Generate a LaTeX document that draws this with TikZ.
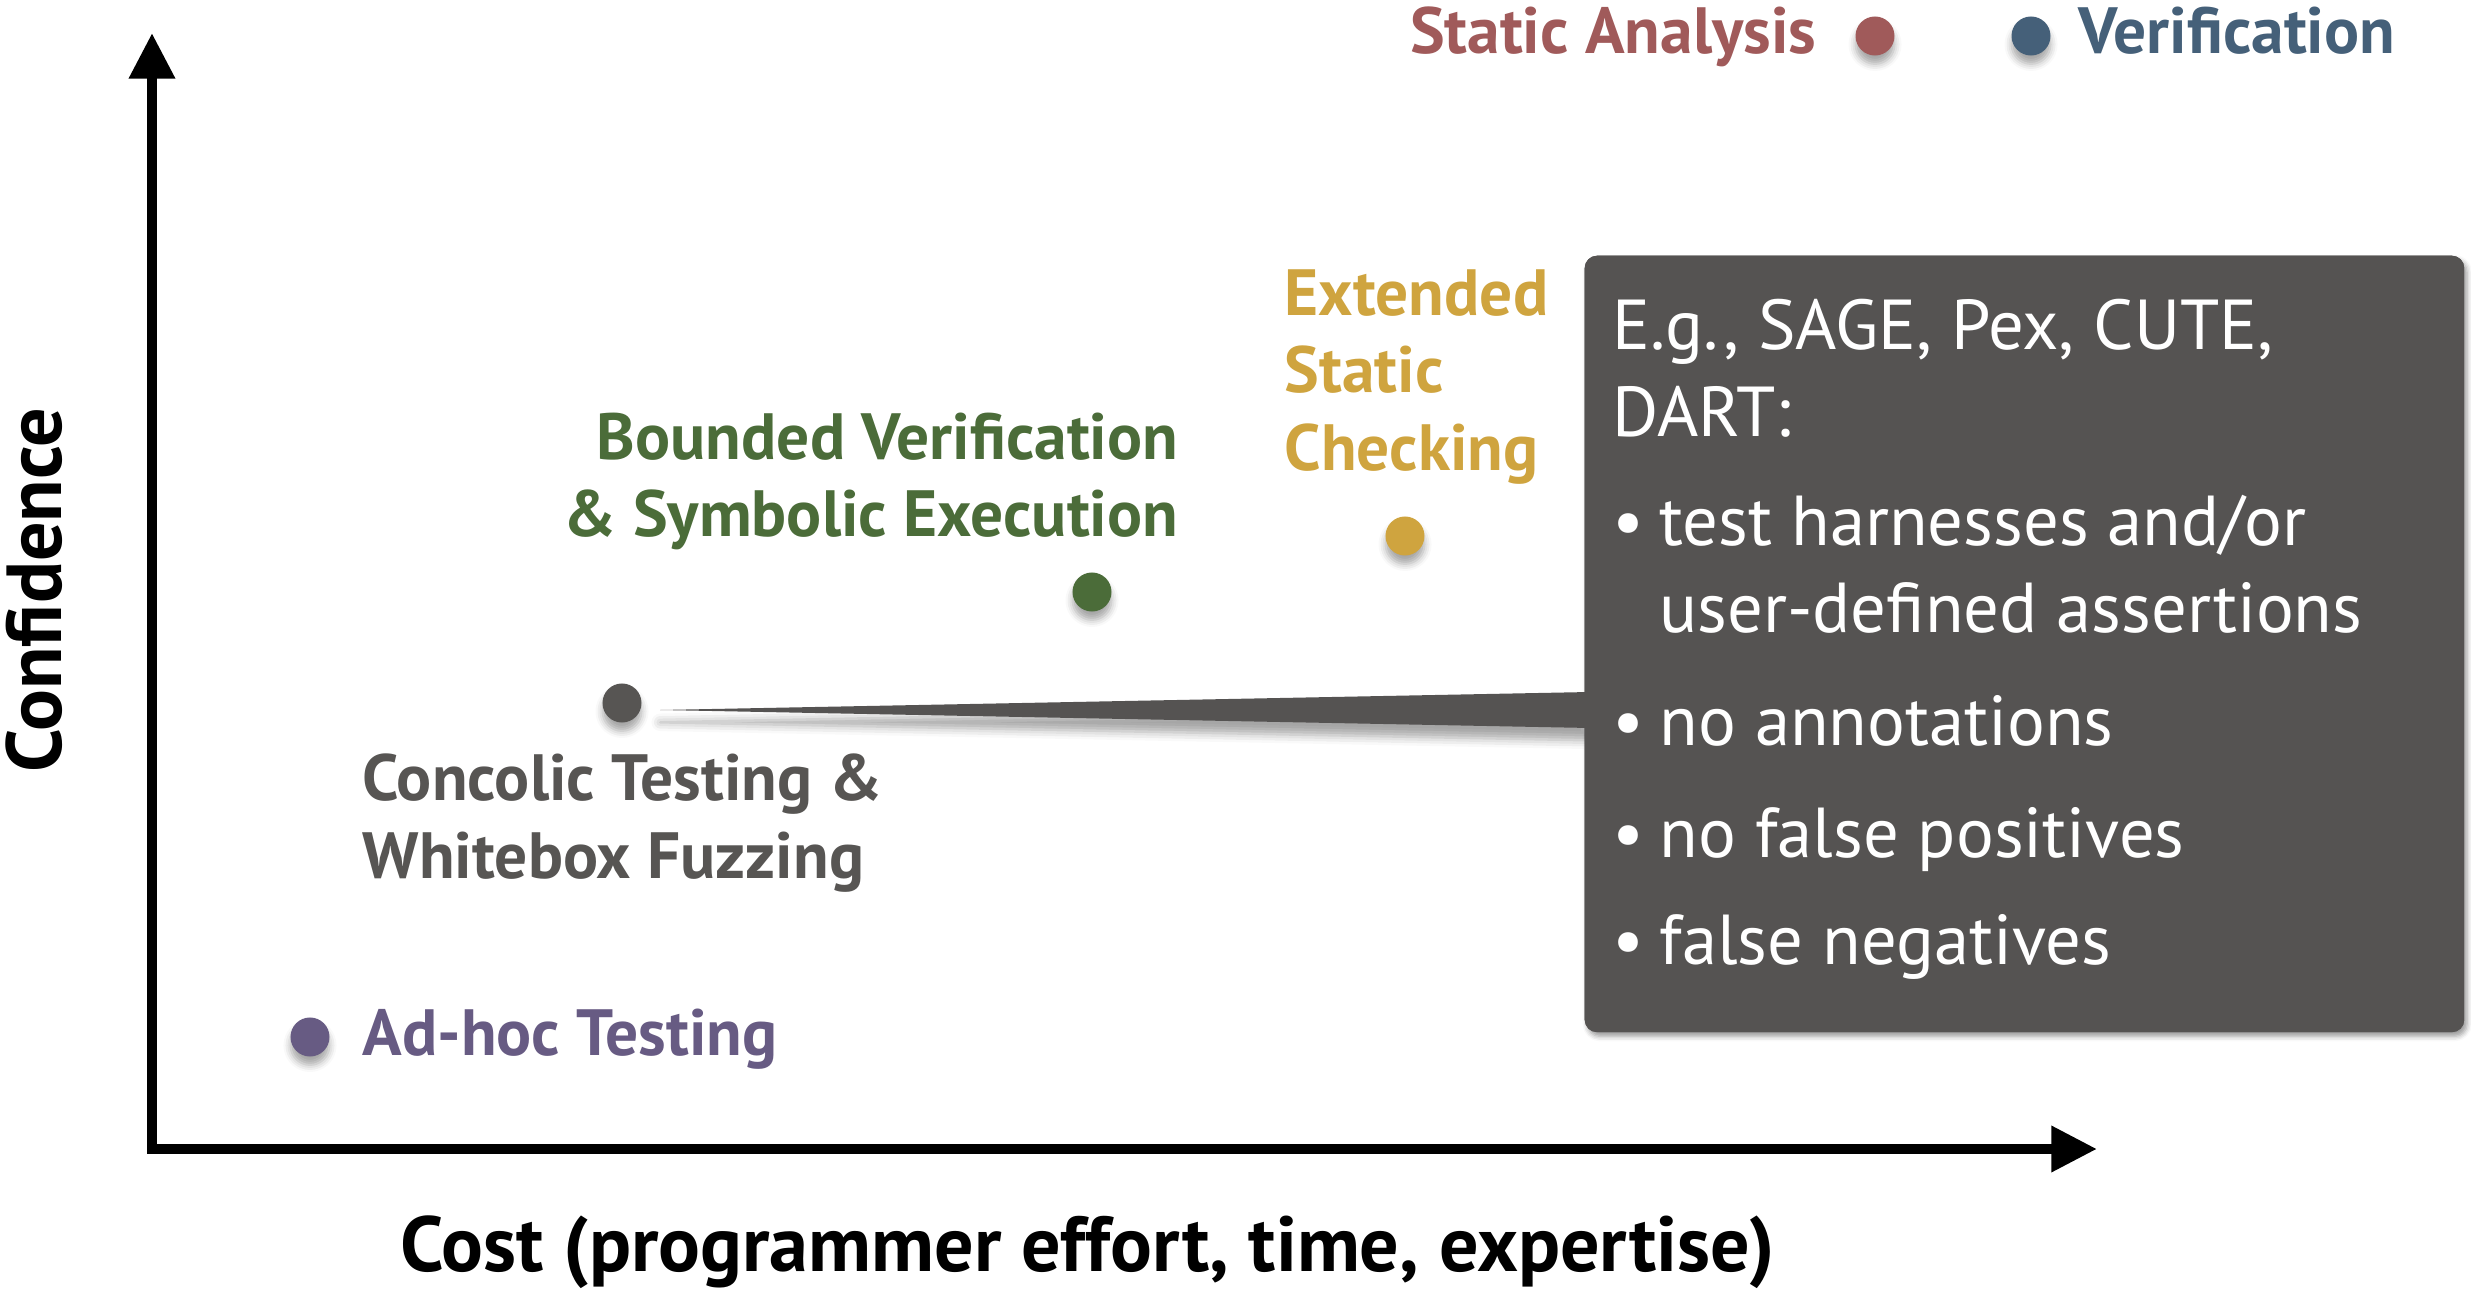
\documentclass[tikz,border=0pt]{standalone}
\usepackage{fontspec}
\setmainfont{PT Sans}
\usetikzlibrary{arrows.meta,calc,shadows.blur}

\definecolor{saRed}{HTML}{A05A5A}
\definecolor{vBlue}{HTML}{456079}
\definecolor{escGold}{HTML}{CFA43F}
\definecolor{bvGreen}{HTML}{4B6C39}
\definecolor{ctGray}{HTML}{575553}
\definecolor{ahPurple}{HTML}{675B83}
\definecolor{calloutGray}{HTML}{555352}

\tikzset{
  softshadow/.style={blur shadow={shadow xshift=0pt, shadow yshift=-2.4pt,
      shadow blur radius=2pt, shadow opacity=35}},
  dot/.style={circle, minimum size=0.39cm, inner sep=0pt, softshadow},
  lab/.style={inner sep=0pt, font=\fontsize{18.6pt}{22pt}\selectfont\bfseries},
  axislab/.style={inner sep=0pt, font=\fontsize{22.2pt}{27pt}\selectfont\bfseries},
  calltext/.style={inner sep=0pt, text=white, anchor=base west,
      font=\fontsize{20.1pt}{24pt}\selectfont},
  callbox/.style={fill=calloutGray, rounded corners=3.5pt, inner sep=0pt,
      anchor=north west, minimum width=8.79cm, minimum height=7.76cm,
      blur shadow={shadow xshift=0.8pt, shadow yshift=-1.2pt,
      shadow blur radius=1.4pt, shadow opacity=40}},
  axis/.style={line width=2.9pt, line join=miter,
      {Triangle[length=13pt,width=12.5pt]}-{Triangle[length=13pt,width=12.5pt]}}
}

\begin{document}
\begin{tikzpicture}[x=0.01cm, y=-0.01cm]
\useasboundingbox (0,0) rectangle (2471,1291);

% axes
\coordinate (ytip) at (152,33);
\coordinate (origin) at (152,1149);
\coordinate (xtip) at (2097,1149);
\draw[axis] (ytip) -- (origin) -- (xtip);

\node[axislab, rotate=90, anchor=base] (conf) at (61,590) {Confidence};
\node[axislab, anchor=base] (cost) at (1088,1271) {Cost (programmer effort, time, expertise)};

% legend
\node[dot, fill=saRed] (saDot) at (1875,36) {};
\node[dot, fill=vBlue] (vDot) at (2031,36) {};
\node[lab, text=saRed, anchor=base east] (saLab) at (1817,54) {Static Analysis};
\node[lab, text=vBlue, anchor=base west] (vLab) at (2078,54) {Verification};

% techniques
\node[dot, fill=escGold] (escDot) at (1405,536) {};
\node[lab, text=escGold, anchor=base west] (esc1) at (1284,316) {Extended};
\node[lab, text=escGold, anchor=base west] (esc2) at (1284,393) {Static};
\node[lab, text=escGold, anchor=base west] (esc3) at (1284,471) {Checking};

\node[dot, fill=bvGreen] (bvDot) at (1092,592) {};
\node[lab, text=bvGreen, anchor=base east] (bv1) at (1179,460) {Bounded Verification};
\node[lab, text=bvGreen, anchor=base east] (bv2) at (1179,537) {\& Symbolic Execution};

\node[dot, fill=ctGray] (ctDot) at (622,703) {};
\node[lab, text=ctGray, anchor=base west] (ct1) at (362,800) {Concolic Testing \&};
\node[lab, text=ctGray, anchor=base west] (ct2) at (362,878) {Whitebox Fuzzing};

\node[dot, fill=ahPurple] (ahDot) at (310,1037) {};
\node[lab, text=ahPurple, anchor=base west] (ahLab) at (362,1055) {Ad-hoc Testing};

% callout
\node[callbox] (box) at (1584,255) {};
\coordinate (tip) at ($(ctDot.east)+(18,7)$);
\coordinate (wTop) at ($(box.north west)+(6,437)$);
\coordinate (wBot) at ($(box.north west)+(6,473)$);
\fill[calloutGray, blur shadow={shadow xshift=0pt, shadow yshift=-3.5pt,
      shadow blur radius=2.5pt, shadow opacity=35}] (wTop) -- (tip) -- (wBot) -- cycle;
\node[fill=calloutGray, rounded corners=3.5pt, inner sep=0pt, anchor=north west,
      minimum width=8.79cm, minimum height=7.76cm] (boxface) at (box.north west) {};

\node[calltext] (c1) at (1612,350) {E.g., SAGE, Pex, CUTE,};
\node[calltext] (c2) at (1612,436) {DART:};
\node[calltext] (b1) at (1612,546) {•};
\node[calltext] (t1) at (1659,546) {test harnesses and/or};
\node[calltext] (t2) at (1659,633) {user-defined assertions};
\node[calltext] (b2) at (1612,745) {•};
\node[calltext] (t3) at (1659,745) {no annotations};
\node[calltext] (b3) at (1612,857) {•};
\node[calltext] (t4) at (1659,857) {no false positives};
\node[calltext] (b4) at (1612,964) {•};
\node[calltext] (t5) at (1659,964) {false negatives};
\end{tikzpicture}
\end{document}
